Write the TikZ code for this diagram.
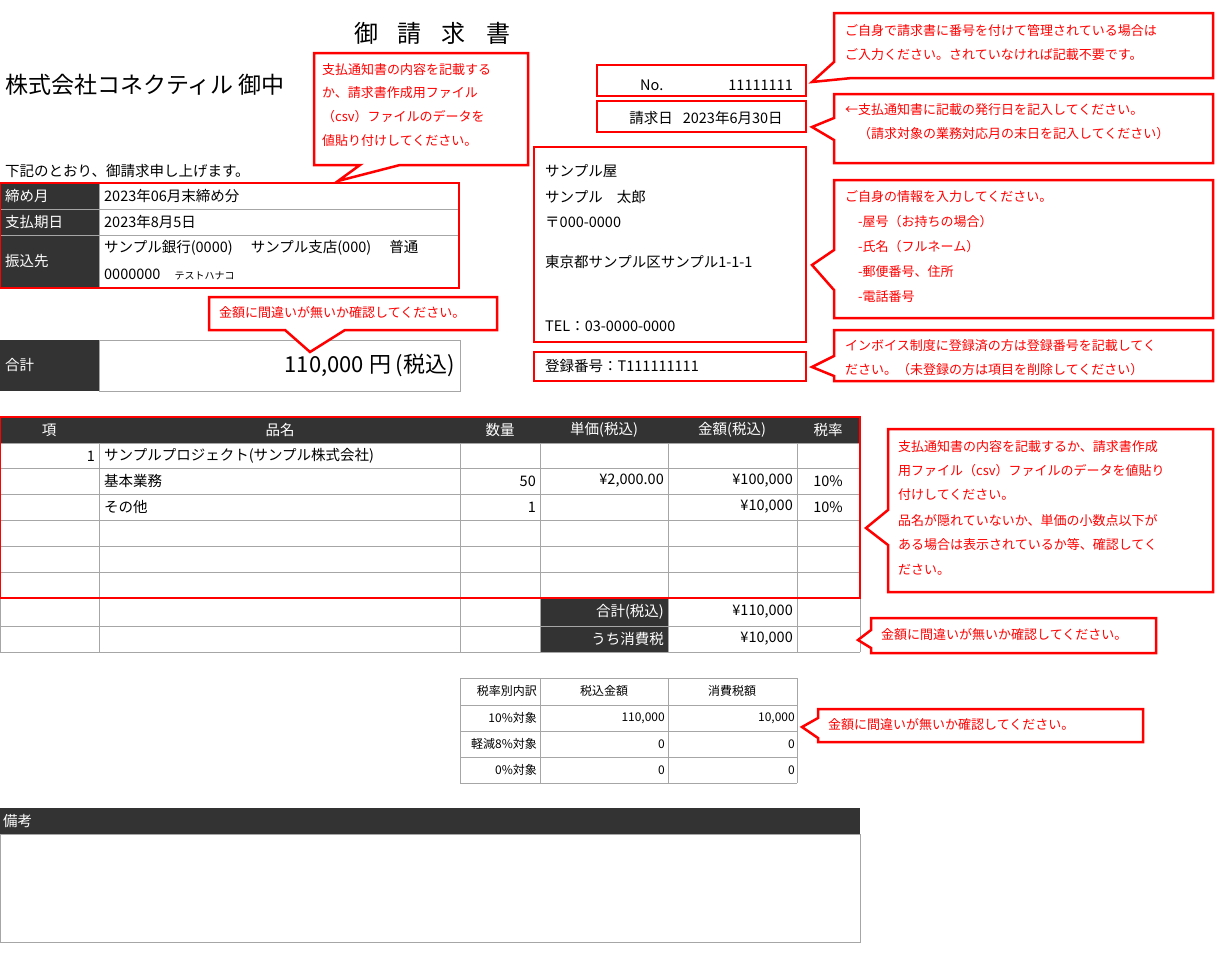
\documentclass[tikz,border=0pt]{standalone}
\usepackage{fontspec}
\setmainfont{Noto Sans CJK JP}
\usetikzlibrary{positioning}
\definecolor{dark}{HTML}{333333}
\definecolor{rule}{HTML}{A6A6A6}
\tikzset{
  cell/.style={inner sep=0pt, font=\fontsize{14.5}{16}\selectfont},
  small/.style={inner sep=0pt, font=\fontsize{12}{14}\selectfont},
  head/.style={cell, text=white},
  note/.style={draw=red, line width=2.5pt, fill=white, line join=miter},
  memo/.style={inner sep=0pt, text=red, anchor=west, font=\fontsize{13}{15}\selectfont},
  redbox/.style={draw=red, line width=2.5pt},
  gridline/.style={draw=rule, line width=0.8pt},
}
\begin{document}
\begin{tikzpicture}[x=1pt, y=-1pt]
\useasboundingbox (0,0) rectangle (1232,970);

% heading
\node (title) [inner sep=0pt, font=\fontsize{24}{26}\selectfont] at (432,33) {御\hspace{20pt}請\hspace{20pt}求\hspace{20pt}書};
\node (client) [inner sep=0pt, anchor=west, font=\fontsize{23}{25}\selectfont] at (5,85) {株式会社コネクティル 御中};
\node (intro) [cell, anchor=west] at (5,171) {下記のとおり、御請求申し上げます。};

% payment info
\fill[dark] (0,183) rectangle (99,288);
\draw[gridline] (99,183) rectangle (459,288);
\draw[gridline] (0,209) -- (459,209) (0,235) -- (459,235);
\node (monthL) [head, anchor=west] at (5,196) {締め月};
\node (dueL) [head, anchor=west] at (5,222) {支払期日};
\node (bankL) [head, anchor=west] at (5,261) {振込先};
\node (month) [cell, anchor=west] at (104,196) {2023年06月末締め分};
\node (due) [cell, anchor=west] at (104,222) {2023年8月5日};
\node (bank) [cell, anchor=west] at (104,248) {サンプル銀行(0000)\hspace{18pt}サンプル支店(000)\hspace{18pt}普通};
\node (acct) [cell, anchor=west] at (104,274) {0000000\hspace{14pt}{\fontsize{10}{12}\selectfont テストハナコ}};
\draw[redbox] (0,183) rectangle (459,288);

% total
\fill[dark] (0,340) rectangle (99,391);
\draw[gridline] (99,340) rectangle (460,391);
\node (sumL) [head, anchor=west] at (5,365) {合計};
\node (sum) [inner sep=0pt, anchor=east, font=\fontsize{22}{24}\selectfont] at (455,365) {110,000 円 (税込)};

% number, date, sender
\draw[redbox] (597,65) rectangle (806,96);
\node (noL) [cell, anchor=west] at (640,85) {No.};
\node (no) [cell, anchor=east] at (793,85) {11111111};
\draw[redbox] (597,101) rectangle (806,132);
\node (date) [cell] at (706,118) {請求日\hspace{10pt}2023年6月30日};
\draw[redbox] (534,147) rectangle (806,342);
\node (shop) [cell, anchor=west] at (545,171) {サンプル屋};
\node (name) [cell, anchor=west] at (545,197) {サンプル\hspace{14pt}太郎};
\node (zip) [cell, anchor=west] at (545,222) {〒000-0000};
\node (addr) [cell, anchor=west] at (545,262) {東京都サンプル区サンプル1-1-1};
\node (tel) [cell, anchor=west] at (545,326) {TEL：03-0000-0000};
\draw[redbox] (534,352) rectangle (806,381);
\node (reg) [cell, anchor=west] at (545,366) {登録番号：T111111111};

% item table
\fill[dark] (0,417) rectangle (860,443);
\fill[dark] (540,598) rectangle (668,652);
\foreach \y in {443,468,494,520,546,572,598,626,652}
  \draw[gridline] (0,\y) -- (860,\y);
\foreach \x in {0,99,460,540,668,797,860}
  \draw[gridline] (\x,443) -- (\x,652);
\foreach \x/\t in {49/項, 280/品名, 500/数量, 604/単価(税込), 732/金額(税込), 828/税率}
  \node [head] at (\x,430) {\t};
\node (i1) [cell, anchor=east] at (95,456) {1};
\node (p1) [cell, anchor=west] at (104,456) {サンプルプロジェクト(サンプル株式会社)};
\node (p2) [cell, anchor=west] at (104,481) {基本業務};
\node (q2) [cell, anchor=east] at (536,481) {50};
\node (u2) [cell, anchor=east] at (664,481) {¥2,000.00};
\node (a2) [cell, anchor=east] at (793,481) {¥100,000};
\node (r2) [cell] at (828,481) {10\%};
\node (p3) [cell, anchor=west] at (104,507) {その他};
\node (q3) [cell, anchor=east] at (536,507) {1};
\node (a3) [cell, anchor=east] at (793,507) {¥10,000};
\node (r3) [cell] at (828,507) {10\%};
\node (totL) [head, anchor=east] at (664,612) {合計(税込)};
\node (tot) [cell, anchor=east] at (793,612) {¥110,000};
\node (taxL) [head, anchor=east] at (664,639) {うち消費税};
\node (tax) [cell, anchor=east] at (793,639) {¥10,000};
\draw[redbox] (0,417) rectangle (860,598);

% tax breakdown
\foreach \y in {678,705,731,757,783}
  \draw[gridline] (460,\y) -- (797,\y);
\foreach \x in {460,540,668,797}
  \draw[gridline] (\x,678) -- (\x,783);
\node (bkL) [small, anchor=east] at (537,691) {税率別内訳};
\node (bkA) [small] at (604,691) {税込金額};
\node (bkT) [small] at (732,691) {消費税額};
\foreach \y/\l/\a/\t in {718/{10\%対象}/{110,000}/{10,000}, 744/{軽減8\%対象}/0/0, 770/{0\%対象}/0/0}{
  \node [small, anchor=east] at (537,\y) {\l};
  \node [small, anchor=east] at (665,\y) {\a};
  \node [small, anchor=east] at (795,\y) {\t};
}

% remarks
\fill[dark] (0,808) rectangle (860,834);
\draw[gridline] (0,834) rectangle (860,942);
\node (remL) [head, anchor=west] at (3,821) {備考};

% callouts
\coordinate (tipA) at (338,181);
\draw[note] (314,53) -- (528,53) -- (528,165) -- (400,165) -- (tipA) -- (360,165) -- (314,165) -- cycle;
\node (noteA1) [memo] at (322,70) {支払通知書の内容を記載する};
\node (noteA2) [memo] at (322,93) {か、請求書作成用ファイル};
\node (noteA3) [memo] at (322,117) {（csv）ファイルのデータを};
\node (noteA4) [memo] at (322,141) {値貼り付けしてください。};

\coordinate (tipB) at (310,352);
\draw[note] (209,297) -- (497,297) -- (497,330) -- (345,330) -- (tipB) -- (285,330) -- (209,330) -- cycle;
\node (noteB) [memo] at (219,313) {金額に間違いが無いか確認してください。};

\coordinate (tipC) at (812,82);
\draw[note] (834,13) -- (1213,13) -- (1213,78) -- (852,78) -- (tipC) -- (834,62) -- cycle;
\node (noteC1) [memo] at (845,31) {ご自身で請求書に番号を付けて管理されている場合は};
\node (noteC2) [memo] at (845,55) {ご入力ください。されていなければ記載不要です。};

\coordinate (tipD) at (812,127);
\draw[note] (834,94) -- (1213,94) -- (1213,163) -- (834,163) -- (834,140) -- (tipD) -- (834,118) -- cycle;
\node (noteD1) [memo] at (845,110) {←支払通知書に記載の発行日を記入してください。};
\node (noteD2) [memo] at (858,134) {（請求対象の業務対応月の末日を記入してください）};

\coordinate (tipE) at (812,265);
\draw[note] (834,180) -- (1213,180) -- (1213,318) -- (834,318) -- (834,290) -- (tipE) -- (834,250) -- cycle;
\node (noteE1) [memo] at (845,197) {ご自身の情報を入力してください。};
\node (noteE2) [memo] at (858,222) {-屋号（お持ちの場合）};
\node (noteE3) [memo] at (858,247) {-氏名（フルネーム）};
\node (noteE4) [memo] at (858,272) {-郵便番号、住所};
\node (noteE5) [memo] at (858,297) {-電話番号};

\coordinate (tipF) at (812,367);
\draw[note] (834,330) -- (1213,330) -- (1213,381) -- (834,381) -- (834,376) -- (tipF) -- (834,356) -- cycle;
\node (noteF1) [memo] at (845,346) {インボイス制度に登録済の方は登録番号を記載してく};
\node (noteF2) [memo] at (845,370) {ださい。（未登録の方は項目を削除してください）};

\coordinate (tipG) at (866,528);
\draw[note] (888,429) -- (1213,429) -- (1213,592) -- (888,592) -- (888,545) -- (tipG) -- (888,510) -- cycle;
\node (noteG1) [memo] at (898,447) {支払通知書の内容を記載するか、請求書作成};
\node (noteG2) [memo] at (898,471) {用ファイル（csv）ファイルのデータを値貼り};
\node (noteG3) [memo] at (898,495) {付けしてください。};
\node (noteG4) [memo] at (898,521) {品名が隠れていないか、単価の小数点以下が};
\node (noteG5) [memo] at (898,545) {ある場合は表示されているか等、確認してく};
\node (noteG6) [memo] at (898,570) {ださい。};

\coordinate (tipH) at (858,640);
\draw[note] (871,618) -- (1156,618) -- (1156,653) -- (871,653) -- (871,648) -- (tipH) -- (871,630) -- cycle;
\node (noteH) [memo] at (881,635) {金額に間違いが無いか確認してください。};

\coordinate (tipI) at (802,727);
\draw[note] (818,709) -- (1143,709) -- (1143,742) -- (818,742) -- (818,738) -- (tipI) -- (818,718) -- cycle;
\node (noteI) [memo] at (828,725) {金額に間違いが無いか確認してください。};
\end{tikzpicture}
\end{document}
